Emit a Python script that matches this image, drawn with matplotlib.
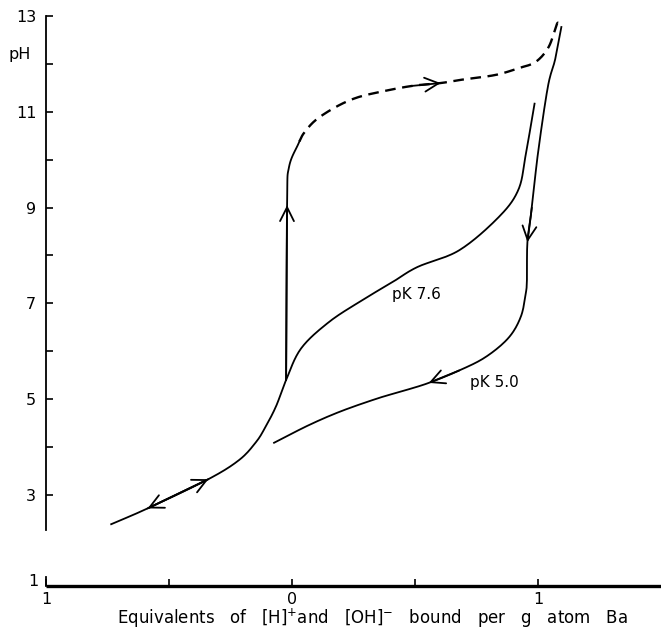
import matplotlib
matplotlib.use("Agg")
import matplotlib.pyplot as plt
import numpy as np

# ---- data ----
# pK 7.6 branch, including the lower acid tail
up_x = [-0.735, -0.587, -0.34, -0.215, -0.147, -0.11, -0.065, -0.024, 0.037, 0.15, 0.28, 0.41, 0.51, 0.68, 0.84, 0.92, 0.95, 0.986]
up_y = [2.39, 2.72, 3.33, 3.73, 4.1, 4.4, 4.85, 5.4, 6.06, 6.61, 7.05, 7.45, 7.76, 8.11, 8.8, 9.37, 10.1, 11.17]

# near-vertical jump at zero
vert_x = [-0.024, -0.02, -0.012, 0.03]
vert_y = [5.4, 9.05, 9.85, 10.38]

# dashed upper branch
dash_x = [0.03, 0.049, 0.097, 0.178, 0.26, 0.353, 0.487, 0.604, 0.69, 0.828, 0.92, 0.99, 1.043, 1.075, 1.083]
dash_y = [10.38, 10.56, 10.83, 11.1, 11.29, 11.41, 11.54, 11.6, 11.67, 11.77, 11.91, 12.04, 12.35, 12.81, 12.86]

# descending branch into pK 5.0 curve
down_x = [1.095, 1.07, 1.04, 1.0, 0.975, 0.957, 0.955, 0.95, 0.93, 0.88, 0.787, 0.68, 0.556, 0.45, 0.35, 0.2, 0.069, -0.073]
down_y = [12.77, 12.1, 11.52, 10.14, 9.0, 8.28, 7.49, 7.2, 6.72, 6.28, 5.88, 5.6, 5.34, 5.17, 5.02, 4.75, 4.46, 4.09]

# arrows: (series, index of tip, direction along series)
arrows = [("up", 1, -1), ("up", 2, 1), ("vert", 1, 1), ("dash", 7, 1), ("down", 5, 1), ("down", 12, 1)]

labels = ["pK 7.6", "pK 5.0"]
label_x = [0.507, 0.824]
label_y = [7.18, 5.34]

ytick_major = [3, 5, 7, 9, 11, 13]
ytick_minor = [4, 6, 8, 10, 12]
xtick_major = [-1, 0, 1]
xtick_labels = ["1", "0", "1"]
xtick_minor = [-0.5, 0.5]

plt.rcParams['font.family'] = ['DejaVu Sans']


def smooth(xs, ys, n=16):
    """Catmull-Rom curve through the given points (drawing only)."""
    P = np.column_stack([xs, ys]).astype(float)
    if len(P) < 3:
        return P[:, 0], P[:, 1]
    P = np.vstack([2 * P[0] - P[1], P, 2 * P[-1] - P[-2]])
    out = []
    t = np.linspace(0, 1, n, endpoint=False)[:, None]
    for i in range(1, len(P) - 2):
        p0, p1, p2, p3 = P[i - 1], P[i], P[i + 1], P[i + 2]
        seg = 0.5 * ((2 * p1) + (-p0 + p2) * t + (2 * p0 - 5 * p1 + 4 * p2 - p3) * t ** 2
                     + (-p0 + 3 * p1 - 3 * p2 + p3) * t ** 3)
        out.append(seg)
    out.append(P[-2][None, :])
    out = np.vstack(out)
    return out[:, 0], out[:, 1]


fig = plt.figure(figsize=(6.61, 6.33), dpi=100)
ax = fig.add_axes([46 / 661, 47 / 633, 1 - 46 / 661, (586 - 16) / 633])
ax.set_xlim(-1, 1.5)
ax.set_ylim(1.1, 13)

lw = 1.3
ax.plot(*smooth(up_x, up_y), color='black', lw=lw)
ax.plot(*smooth(vert_x, vert_y), color='black', lw=lw)
ax.plot(*smooth(dash_x, dash_y), color='black', lw=1.7, linestyle=(0, (4.5, 2.8)))
ax.plot(*smooth(down_x, down_y), color='black', lw=lw)

series = {"up": (up_x, up_y), "vert": (vert_x, vert_y), "dash": (dash_x, dash_y), "down": (down_x, down_y)}
for name, i, d in arrows:
    xs, ys = series[name]
    j = i - d
    ax.annotate("", xy=(xs[i], ys[i]), xytext=(xs[j], ys[j]),
                arrowprops=dict(arrowstyle="->,head_length=1.0,head_width=0.5",
                                lw=lw, color='black', shrinkA=0, shrinkB=0))

for t, x, y in zip(labels, label_x, label_y):
    ax.text(x, y, t, fontsize=11, ha='center', va='center')

# spines
for s in ['top', 'right']:
    ax.spines[s].set_visible(False)
ax.spines['left'].set_bounds(2.27, 13)
ax.spines['left'].set_linewidth(1.3)
ax.spines['bottom'].set_linewidth(2.4)
ax.spines['bottom'].set_capstyle('butt')

# short piece of the y axis at the corner
ax.plot([-1, -1], [1.1, 1.28], color='black', lw=1.3, clip_on=False)
ax.text(-1.03, 1.2, "1", fontsize=11.5, ha='right', va='center')

ax.set_yticks(ytick_major)
ax.set_yticks(ytick_minor, minor=True)
ax.set_yticklabels([str(v) for v in ytick_major], fontsize=11.5)
ax.set_xticks(xtick_major)
ax.set_xticks(xtick_minor, minor=True)
ax.set_xticklabels(xtick_labels, fontsize=11.5)
ax.tick_params(axis='y', which='both', direction='in', length=5, width=1.2, pad=7)
ax.tick_params(axis='x', which='both', direction='in', length=5, width=1.2, pad=4)

ax.text(-1.06, 12.2, "pH", fontsize=11.5, ha='right', va='center')

ax.set_xlabel("Equivalents   of   [H]$^{+}$and   [OH]$^{-}$   bound   per   g   atom   Ba", fontsize=12, labelpad=3)
ax.xaxis.set_label_coords((372 - 46) / (661 - 46), -0.037)

fig.savefig("out.png", dpi=100)
